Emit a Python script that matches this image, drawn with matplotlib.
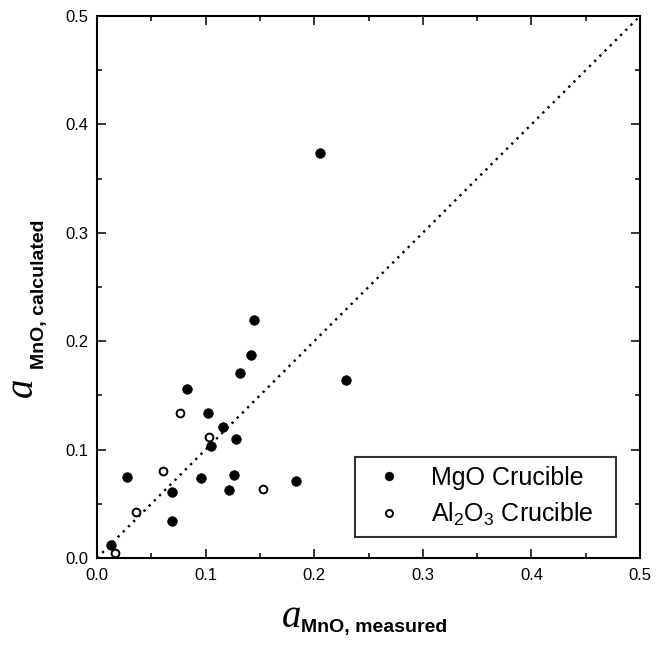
import matplotlib
matplotlib.use('Agg')
import matplotlib.pyplot as plt

plt.rcParams['font.family'] = ['Liberation Sans', 'DejaVu Sans']
plt.rcParams['mathtext.fontset'] = 'custom'
plt.rcParams['mathtext.rm'] = 'Liberation Sans'

# MgO crucible (filled circles)
mgo_x = [0.145, 0.142, 0.132, 0.083, 0.102, 0.116, 0.128, 0.105, 0.028,
         0.096, 0.126, 0.183, 0.069, 0.122, 0.069, 0.013, 0.205, 0.229]
mgo_y = [0.220, 0.187, 0.171, 0.156, 0.134, 0.121, 0.110, 0.103, 0.075,
         0.074, 0.077, 0.071, 0.061, 0.063, 0.034, 0.012, 0.374, 0.164]

# Al2O3 crucible (open circles)
al_x = [0.076, 0.103, 0.061, 0.153, 0.036, 0.017]
al_y = [0.134, 0.112, 0.080, 0.064, 0.042, 0.005]

diag = [0.0, 0.5]
ticks = [0.0, 0.1, 0.2, 0.3, 0.4, 0.5]
tick_labels = ['0.0', '0.1', '0.2', '0.3', '0.4', '0.5']

W, H = 663, 645
fig = plt.figure(figsize=(W / 100, H / 100), dpi=100)
ax = fig.add_axes([97 / W, 1 - 558 / H, (640 - 97) / W, (558 - 16) / H])

ax.plot(diag, diag, color='black', lw=1.7, linestyle=(0, (1, 2.1)))
ax.plot(mgo_x, mgo_y, 'o', color='black', ms=7.0, mew=0.4,
        label='MgO Crucible', clip_on=False)
ax.plot(al_x, al_y, 'o', mfc='white', mec='black', ms=5.6, mew=1.4,
        label=r'Al$_\mathregular{2}$O$_\mathregular{3}$ Crucible', clip_on=False)

ax.set_xlim(0, 0.5)
ax.set_ylim(0, 0.5)
ax.set_xticks(ticks)
ax.set_xticklabels(tick_labels)
ax.set_yticks(ticks)
ax.set_yticklabels(tick_labels)
ax.set_xticks([0.05, 0.15, 0.25, 0.35, 0.45], minor=True)
ax.set_yticks([0.05, 0.15, 0.25, 0.35, 0.45], minor=True)
ax.tick_params(which='both', direction='in', top=True, right=True,
               width=1.1, labelsize=12)
ax.tick_params(axis='x', which='major', length=6.5, pad=7)
ax.tick_params(axis='y', which='major', length=6.5, pad=6)
ax.tick_params(which='minor', length=3.5)
for sp in ax.spines.values():
    sp.set_linewidth(1.5)

leg = ax.legend(loc='lower left',
                bbox_to_anchor=((355 - 97) / 543, (558 - 537) / 542,
                                (616 - 355) / 543, (537 - 456) / 542),
                mode='expand', borderaxespad=0, fontsize=18, frameon=True,
                fancybox=False, edgecolor='black', handlelength=2.0,
                handletextpad=0.7, borderpad=0.35, labelspacing=0.45,
                markerscale=0.9)
leg.get_frame().set_linewidth(1.5)


def fx(px):
    return px / W


def fy(py):
    return 1 - py / H


# x axis label
fig.text(fx(282), fy(627), 'a', family='Liberation Serif', style='italic',
         fontsize=28, ha='left', va='baseline')
fig.text(fx(301), fy(632), 'MnO, measured', fontsize=14, fontweight='bold',
         ha='left', va='baseline')

# y axis label
fig.text(fx(32), fy(397), 'a', family='Liberation Serif', style='italic',
         fontsize=28, ha='left', va='baseline', rotation=90,
         rotation_mode='anchor')
fig.text(fx(44), fy(369), 'MnO, calculated', fontsize=14, fontweight='bold',
         ha='left', va='baseline', rotation=90, rotation_mode='anchor')

fig.savefig('out.png', dpi=100)
